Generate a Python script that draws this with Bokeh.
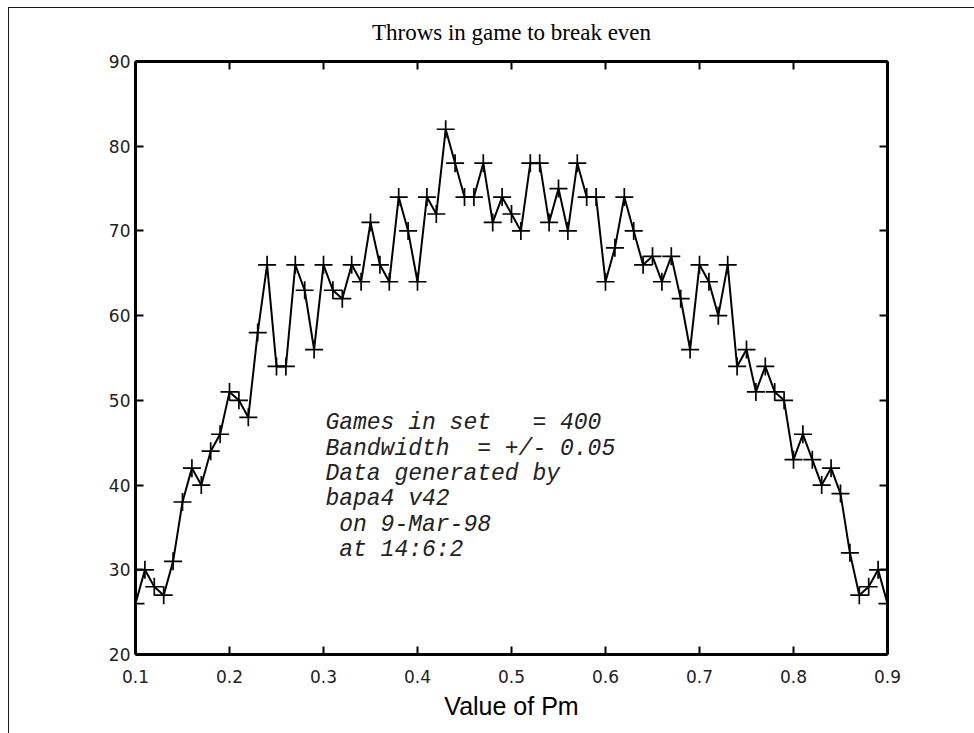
from bokeh.plotting import figure
from bokeh.models import Range1d, FixedTicker, LinearAxis, Label
from bokeh.embed import file_html
from bokeh.resources import INLINE

# ---- data ----
pm = [0.10, 0.11, 0.12, 0.13, 0.14, 0.15, 0.16, 0.17, 0.18, 0.19,
      0.20, 0.21, 0.22, 0.23, 0.24, 0.25, 0.26, 0.27, 0.28, 0.29,
      0.30, 0.31, 0.32, 0.33, 0.34, 0.35, 0.36, 0.37, 0.38, 0.39,
      0.40, 0.41, 0.42, 0.43, 0.44, 0.45, 0.46, 0.47, 0.48, 0.49,
      0.50, 0.51, 0.52, 0.53, 0.54, 0.55, 0.56, 0.57, 0.58, 0.59,
      0.60, 0.61, 0.62, 0.63, 0.64, 0.65, 0.66, 0.67, 0.68, 0.69,
      0.70, 0.71, 0.72, 0.73, 0.74, 0.75, 0.76, 0.77, 0.78, 0.79,
      0.80, 0.81, 0.82, 0.83, 0.84, 0.85, 0.86, 0.87, 0.88, 0.89,
      0.90]
throws = [26, 30, 28, 27, 31, 38, 42, 40, 44, 46,
          51, 50, 48, 58, 66, 54, 54, 66, 63, 56,
          66, 63, 62, 66, 64, 71, 66, 64, 74, 70,
          64, 74, 72, 82, 78, 74, 74, 78, 71, 74,
          72, 70, 78, 78, 71, 75, 70, 78, 74, 74,
          64, 68, 74, 70, 66, 67, 64, 67, 62, 56,
          66, 64, 60, 66, 54, 56, 51, 54, 51, 50,
          43, 46, 43, 40, 42, 39, 32, 27, 28, 30,
          26]

x_ticks = [0.1, 0.2, 0.3, 0.4, 0.5, 0.6, 0.7, 0.8, 0.9]
x_tick_labels = ["0.1", "0.2", "0.3", "0.4", "0.5", "0.6", "0.7", "0.8", "0.9"]
y_ticks = [20, 30, 40, 50, 60, 70, 80, 90]

title_text = "Throws in game to break even"
x_label = "Value of Pm"
note_lines = [
    "Games in set   = 400",
    "Bandwidth  = +/- 0.05",
    "Data generated by",
    "bapa4 v42",
    " on 9-Mar-98",
    " at 14:6:2",
]

# ---- figure ----
p = figure(width=974, height=733, output_backend="svg", toolbar_location=None,
           x_range=Range1d(0.1, 0.9), y_range=Range1d(20, 90),
           min_border_left=135, min_border_right=87,
           min_border_top=61, min_border_bottom=79)
# thin page frame lines (left and top) drawn behind a transparent border area
p.styles = {
    "background-image": "linear-gradient(#1a1a1a, #1a1a1a), linear-gradient(#1a1a1a, #1a1a1a)",
    "background-size": "1px 100%, 100% 1px",
    "background-position": "8px 7px, 8px 7px",
    "background-repeat": "no-repeat",
}
p.background_fill_color = "white"
p.border_fill_color = None
p.outline_line_color = None
p.grid.visible = False

p.title.text = title_text
p.title.align = "center"
p.title.text_font = "Liberation Serif"
p.title.text_font_size = "23px"
p.title.text_font_style = "normal"
p.title.text_color = "black"
p.title.standoff = 34


def style_axis(ax, show_labels):
    ax.axis_line_width = 3
    ax.axis_line_color = "black"
    ax.major_tick_in = 8
    ax.major_tick_out = 0
    ax.major_tick_line_width = 2
    ax.major_tick_line_color = "black"
    ax.minor_tick_line_color = None
    ax.major_label_text_font = "DejaVu Sans"
    ax.major_label_text_font_size = "17px" if show_labels else "1px"
    ax.major_label_text_color = "#222222" if show_labels else None


xax = p.xaxis[0]
xax.ticker = FixedTicker(ticks=x_ticks)
xax.major_label_overrides = {t: l for t, l in zip(x_ticks, x_tick_labels)}
style_axis(xax, True)
xax.major_label_standoff = 15
xax.axis_label = x_label
xax.axis_label_text_font = "Liberation Sans"
xax.axis_label_text_font_size = "25px"
xax.axis_label_text_font_style = "normal"
xax.axis_label_text_color = "black"
xax.axis_label_standoff = 6

yax = p.yaxis[0]
yax.ticker = FixedTicker(ticks=y_ticks)
style_axis(yax, True)
yax.major_label_standoff = 5

top = LinearAxis(ticker=FixedTicker(ticks=x_ticks))
style_axis(top, False)
top.major_label_standoff = 0
p.add_layout(top, "above")
right = LinearAxis(ticker=FixedTicker(ticks=y_ticks))
style_axis(right, False)
p.add_layout(right, "right")

# ---- data ----
p.line(pm, throws, line_color="black", line_width=2)
p.scatter(pm, throws, marker="cross", size=18, line_color="black", line_width=1.7)

# ---- annotation text (non-breaking spaces keep the monospaced alignment) ----
for i, line in enumerate(note_lines):
    p.add_layout(Label(x=0.302, y=47.3 - 3.0 * i, text=line.replace(" ", "\u00a0"),
                       text_font="Liberation Mono", text_font_style="italic",
                       text_font_size="23px", text_baseline="middle",
                       text_align="left", text_color="#222222"))

open("out.html", "w").write(file_html(p, INLINE))
